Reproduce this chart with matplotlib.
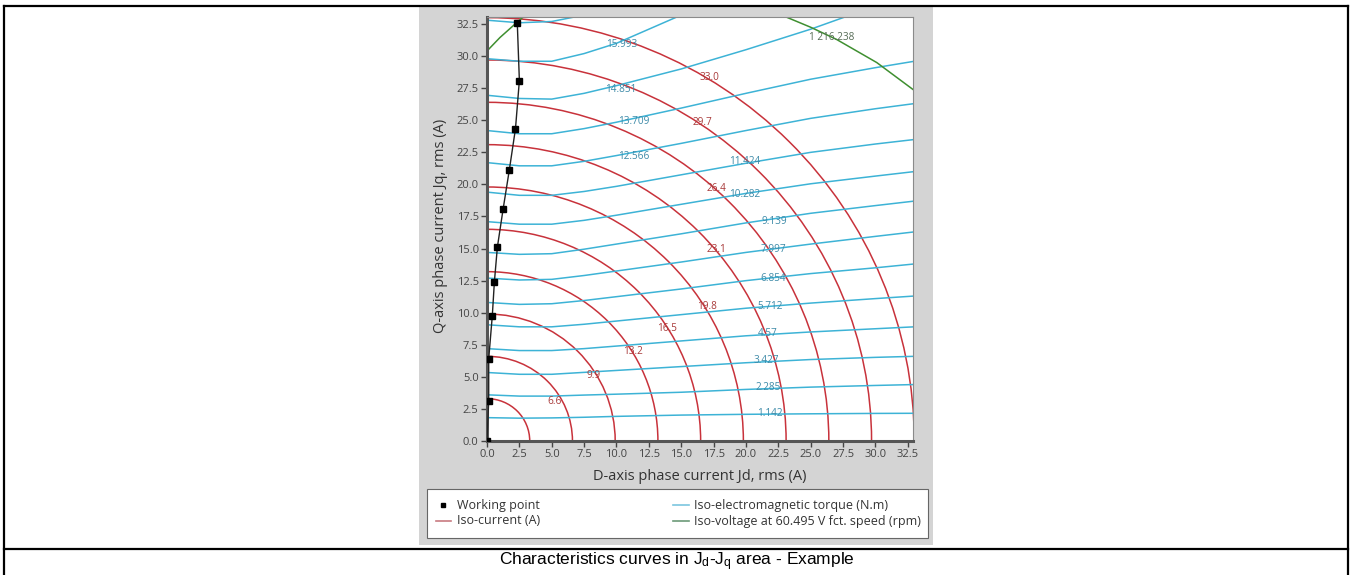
import numpy as np
import matplotlib.pyplot as plt
from matplotlib.patches import Arc, Rectangle
from matplotlib.lines import Line2D

plt.rcParams['font.family'] = ['Open Sans', 'DejaVu Sans']
plt.rcParams['mathtext.fontset'] = 'custom'
plt.rcParams['mathtext.rm'] = 'Liberation Sans'
plt.rcParams['mathtext.it'] = 'Liberation Sans'

W, H = 1354, 575

# ---- data ----
# iso-current circles (A)
current_levels = [3.3, 6.6, 9.9, 13.2, 16.5, 19.8, 23.1, 26.4, 29.7, 33.0]
current_labels = ["6.6", "9.9", "13.2", "16.5", "19.8", "23.1", "26.4", "29.7", "33.0"]
current_label_x = [5.2, 8.2, 11.3, 13.9, 17.0, 17.7, 17.7, 16.6, 17.2]
current_label_y = [3.1, 5.1, 7.0, 8.8, 10.5, 14.9, 19.7, 24.8, 28.3]

# iso-torque curves (N.m): Jq values sampled at torque_x
torque_labels = ["1.142", "2.285", "3.427", "4.57", "5.712", "6.854", "7.997",
                 "9.139", "10.282", "11.424", "12.566", "13.709", "14.851", "15.993"]
torque_x = [0, 2.5, 5, 7.5, 10, 15, 20, 25, 30, 33]
torque_1 = [1.82, 1.78, 1.80, 1.85, 1.92, 2.02, 2.08, 2.12, 2.15, 2.16]
torque_2 = [3.60, 3.50, 3.50, 3.58, 3.65, 3.80, 4.02, 4.20, 4.33, 4.40]
torque_3 = [5.34, 5.20, 5.20, 5.35, 5.50, 5.80, 6.10, 6.35, 6.52, 6.60]
torque_4 = [7.20, 7.05, 7.05, 7.20, 7.40, 7.80, 8.20, 8.50, 8.75, 8.90]
torque_5 = [9.06, 8.90, 8.90, 9.10, 9.35, 9.85, 10.35, 10.75, 11.10, 11.30]
torque_6 = [10.80, 10.65, 10.70, 10.95, 11.25, 11.85, 12.50, 13.05, 13.50, 13.80]
torque_7 = [12.70, 12.55, 12.60, 12.90, 13.25, 13.95, 14.70, 15.35, 15.95, 16.30]
torque_8 = [14.70, 14.55, 14.60, 14.95, 15.35, 16.15, 17.00, 17.75, 18.35, 18.70]
torque_9 = [17.10, 16.90, 16.90, 17.20, 17.60, 18.45, 19.30, 20.05, 20.65, 21.00]
torque_10 = [19.40, 19.15, 19.15, 19.45, 19.85, 20.75, 21.65, 22.50, 23.15, 23.50]
torque_11 = [21.70, 21.45, 21.45, 21.80, 22.25, 23.20, 24.20, 25.15, 25.90, 26.30]
torque_12 = [24.20, 23.95, 23.95, 24.35, 24.85, 25.95, 27.10, 28.20, 29.10, 29.60]
torque_13 = [26.95, 26.70, 26.65, 27.10, 27.70, 29.00, 30.50, 32.10, 33.90, 34.40]
torque_14 = [29.80, 29.60, 29.60, 30.20, 31.00, 33.20, 34.5, 35.5, 36.5, 37.0]
torque_15 = [32.80, 32.60, 32.70, 33.20, 33.8, 35.0, 36.0, 37.0, 38.0, 38.5]
torque_curves = [torque_1, torque_2, torque_3, torque_4, torque_5, torque_6, torque_7,
                 torque_8, torque_9, torque_10, torque_11, torque_12, torque_13,
                 torque_14, torque_15]
torque_label_x = [21.85, 21.7, 21.6, 21.7, 21.85, 22.1, 22.1, 22.2, 19.9, 19.9,
                  11.3, 11.3, 10.3, 10.4]
torque_label_y = [2.16, 4.2, 6.3, 8.4, 10.5, 12.7, 14.9, 17.1, 19.2, 21.8,
                  22.2, 24.9, 27.4, 30.9]

# iso-voltage curves
voltage_left_x = [0.0, 1.0, 2.0, 2.8]
voltage_left_y = [30.4, 31.45, 32.35, 33.05]
voltage_right_x = [23.1, 25.0, 27.0, 30.1, 32.9]
voltage_right_y = [33.05, 32.25, 31.3, 29.5, 27.4]
voltage_label = "1 216.238"
voltage_label_xy = (26.6, 31.45)

# working points
wp_x = [0.0, 0.13, 0.13, 0.41, 0.57, 0.8, 1.24, 1.72, 2.2, 2.5, 2.34]
wp_y = [0.0, 3.15, 6.38, 9.77, 12.4, 15.1, 18.05, 21.1, 24.35, 28.1, 32.55]

ticks = np.arange(0, 32.6, 2.5)

RED = '#c8323b'
CYAN = '#3db3d6'
GREEN = '#3f8f30'

fig = plt.figure(figsize=(W / 100, H / 100), dpi=100)

# grey panel behind the chart
fig.patches.append(Rectangle((419 / W, 1 - 545 / H), 514 / W, 539 / H,
                             transform=fig.transFigure, facecolor='#d4d4d4',
                             edgecolor='none', zorder=-5))

ax = fig.add_axes([487 / W, 1 - 441 / H, 426 / W, 424 / H])
ax.set_facecolor('white')
ax.set_xlim(0, 32.9)
ax.set_ylim(0, 33.05)

for r in current_levels:
    ax.add_patch(Arc((0, 0), 2 * r, 2 * r, theta1=0, theta2=90, color=RED, lw=1.1))
for lab, x, y in zip(current_labels, current_label_x, current_label_y):
    ax.text(x, y, lab, color='#a83a3a', fontsize=7.2, ha='center', va='center')

for yy in torque_curves:
    ax.plot(torque_x, yy, color=CYAN, lw=1.1)
for lab, x, y in zip(torque_labels, torque_label_x, torque_label_y):
    ax.text(x, y, lab, color='#3d8aa8', fontsize=7.2, ha='center', va='center')

ax.plot(voltage_left_x, voltage_left_y, color=GREEN, lw=1.1)
ax.plot(voltage_right_x, voltage_right_y, color=GREEN, lw=1.1)
ax.text(*voltage_label_xy, voltage_label, color='#556b55', fontsize=7.2,
        ha='center', va='center')

ax.plot(wp_x, wp_y, color='#222222', lw=1.0, marker='s', ms=4,
        markerfacecolor='black', markeredgecolor='black', zorder=5)

ax.set_xticks(ticks)
ax.set_yticks(ticks)
ax.set_xticklabels([f'{t:.1f}' for t in ticks])
ax.set_yticklabels([f'{t:.1f}' for t in ticks])
ax.tick_params(labelsize=8, colors='#444444', length=4, width=1, pad=2)
for side in ['left', 'bottom']:
    ax.spines[side].set_color('#555555')
    ax.spines[side].set_linewidth(2.2)
for side in ['top', 'right']:
    ax.spines[side].set_color('#8a8a8a')
    ax.spines[side].set_linewidth(0.8)

fig.text(440 / W, 1 - 226 / H, 'Q-axis phase current Jq, rms (A)', rotation=90,
         ha='center', va='center', fontsize=10.5, color='#333333')
fig.text(700 / W, 1 - 477 / H, 'D-axis phase current Jd, rms (A)',
         ha='center', va='center', fontsize=10.5, color='#333333')

# legend box
fig.patches.append(Rectangle((427 / W, 1 - 538 / H), 501 / W, 49 / H,
                             transform=fig.transFigure, facecolor='white',
                             edgecolor='#666666', lw=0.8, zorder=1))
fig.add_artist(Line2D([443 / W], [1 - 505 / H], marker='s', ms=3.5, color='black',
                      transform=fig.transFigure))
fig.add_artist(Line2D([436 / W, 451 / W], [1 - 521 / H] * 2, color='#c87a80', lw=1.2,
                      transform=fig.transFigure))
fig.add_artist(Line2D([673 / W, 689 / W], [1 - 505 / H] * 2, color='#7cc6df', lw=1.2,
                      transform=fig.transFigure))
fig.add_artist(Line2D([673 / W, 689 / W], [1 - 521 / H] * 2, color='#6c9a78', lw=1.2,
                      transform=fig.transFigure))
leg_kw = dict(ha='left', va='center', fontsize=9, color='#333333')
fig.text(457 / W, 1 - 505 / H, 'Working point', **leg_kw)
fig.text(457 / W, 1 - 521 / H, 'Iso-current (A)', **leg_kw)
fig.text(694 / W, 1 - 505 / H, 'Iso-electromagnetic torque (N.m)', **leg_kw)
fig.text(694 / W, 1 - 521 / H, 'Iso-voltage at 60.495 V fct. speed (rpm)', **leg_kw)

# table frame and caption
frame_kw = dict(color='black', lw=1.6, transform=fig.transFigure)
fig.add_artist(Line2D([4 / W, 1348 / W], [1 - 6 / H] * 2, **frame_kw))
fig.add_artist(Line2D([4 / W, 4 / W], [0, 1 - 6 / H], **frame_kw))
fig.add_artist(Line2D([1348 / W, 1348 / W], [0, 1 - 6 / H], **frame_kw))
fig.add_artist(Line2D([4 / W, 1348 / W], [1 - 549 / H] * 2, **frame_kw))
fig.text(677 / W, 1 - 562 / H,
         r'Characteristics curves in J$_\mathrm{d}$-J$_\mathrm{q}$ area - Example',
         ha='center', va='center', fontsize=12.5, family='Liberation Sans')

fig.savefig('out.png', dpi=100)
